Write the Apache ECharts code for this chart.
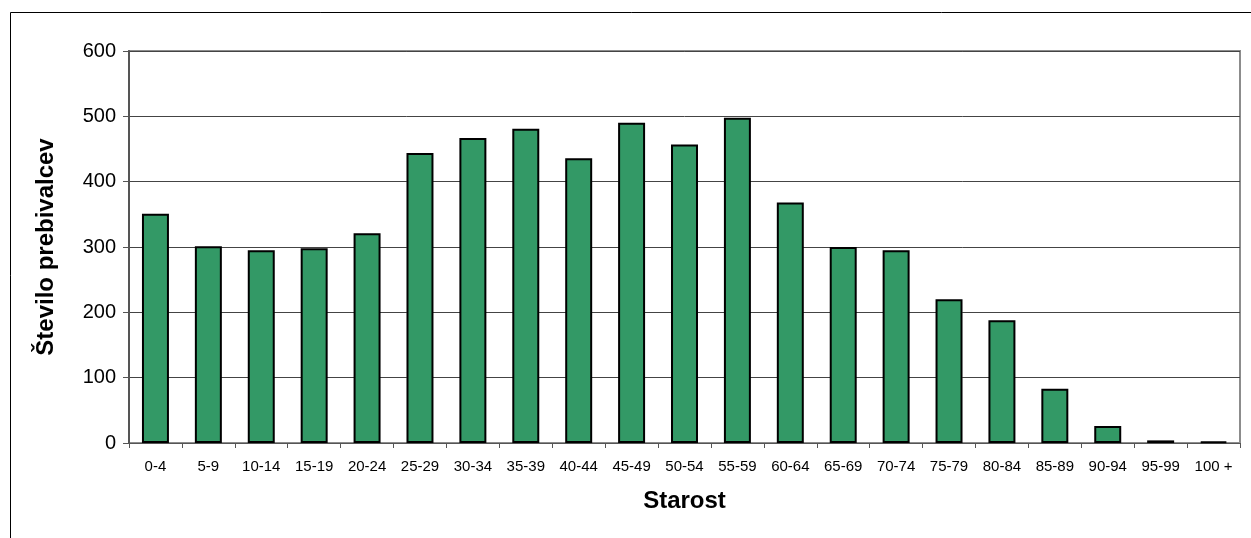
<!DOCTYPE html>
<html>
<head>
<meta charset="utf-8">
<script src="https://cdn.jsdelivr.net/npm/echarts@6/dist/echarts.min.js"></script>
<style>
html,body{margin:0;padding:0;background:#fff;}
#c{width:1251px;height:538px;}
</style>
</head>
<body>
<div id="c"></div>
<script>
const categories = ['0-4','5-9','10-14','15-19','20-24','25-29','30-34','35-39','40-44','45-49','50-54','55-59','60-64','65-69','70-74','75-79','80-84','85-89','90-94','95-99','100 +'];
const values = [351, 301, 295, 298, 321, 444, 467, 481, 436, 490, 457, 498, 368, 300, 295, 220, 188, 83, 26, 4, 2];
const yTicks = [0, 100, 200, 300, 400, 500, 600];
const yTitle = 'Število prebivalcev';
const xTitle = 'Starost';

const chart = echarts.init(document.getElementById('c'), null, {renderer: 'canvas'});
const font = '"Liberation Sans", Arial, sans-serif';
chart.setOption({
  animation: false,
  backgroundColor: '#fff',
  textStyle: {fontFamily: font},
  graphic: [{
    type: 'rect', left: 8, top: 10, z: -1,
    shape: {width: 1300, height: 600},
    style: {fill: 'none', stroke: '#000', lineWidth: 1}
  }],
  grid: {left: 129, right: 11, top: 51, bottom: 95, show: true, borderColor: '#8c8c8c', borderWidth: 2, backgroundColor: 'transparent'},
  xAxis: {
    type: 'category', data: categories,
    name: xTitle, nameLocation: 'middle', nameGap: 46,
    nameTextStyle: {fontSize: 24, fontWeight: 'bold', color: '#000', fontFamily: font},
    axisLine: {lineStyle: {color: '#555', width: 1}},
    axisTick: {show: true, alignWithLabel: false, length: 5, lineStyle: {color: '#555'}},
    axisLabel: {fontSize: 15, color: '#000', margin: 16, interval: 0, fontFamily: font}
  },
  yAxis: {
    type: 'value', min: yTicks[0], max: yTicks[yTicks.length - 1], interval: 100,
    name: yTitle, nameLocation: 'middle', nameGap: 71, nameRotate: 90,
    nameTextStyle: {fontSize: 24, fontWeight: 'bold', color: '#000', fontFamily: font},
    axisLine: {show: true, lineStyle: {color: '#555', width: 2}},
    axisTick: {show: true, length: 6, lineStyle: {color: '#555'}},
    axisLabel: {fontSize: 20, color: '#000', margin: 13, fontFamily: font},
    splitLine: {lineStyle: {color: '#444', width: 1}}
  },
  series: [{
    type: 'bar', data: values, barWidth: '51%',
    itemStyle: {color: '#339966', borderColor: '#000', borderWidth: 2}
  }]
});
</script>
</body>
</html>
